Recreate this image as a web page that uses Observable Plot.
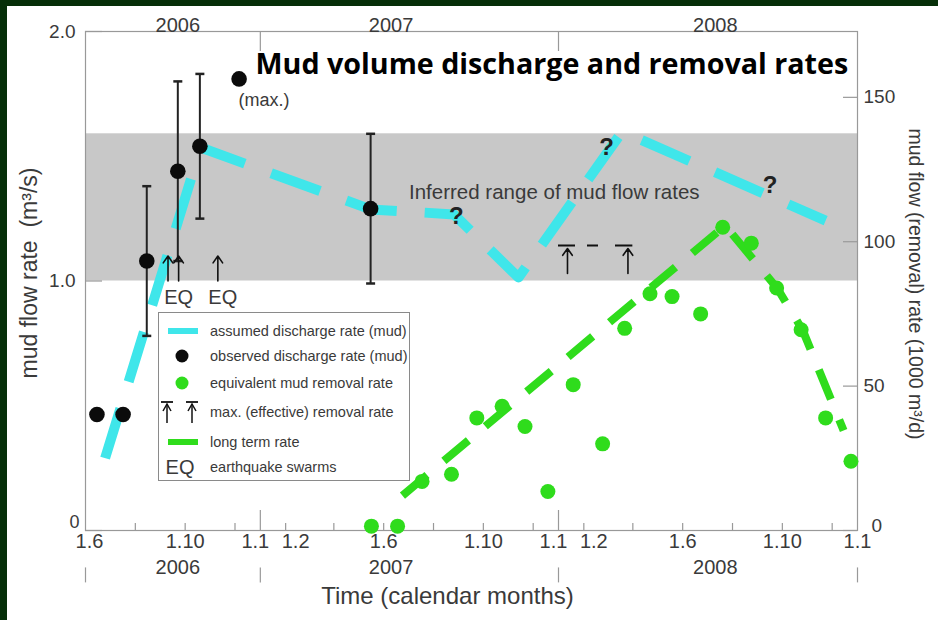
<!DOCTYPE html>
<html>
<head>
<meta charset="utf-8">
<script src="https://cdn.jsdelivr.net/npm/d3@7"></script>
<script src="https://cdn.jsdelivr.net/npm/@observablehq/plot@0.6"></script>
<style>
html, body { margin: 0; padding: 0; background: #062f08; width: 938px; height: 620px; overflow: hidden; }
#wrap { position: absolute; left: 7px; top: 6px; width: 931px; height: 614px; background: #fff; }
#legend { position: absolute; left: 151px; top: 306px; }
svg { display: block; }
</style>
</head>
<body>
<div id="wrap"><div id="chart"></div></div>
<script>
const parse = d3.utcParse("%Y-%m-%d");
const K = 86.4; // 1 m3/s = 86.4 thousand m3/d

// ---------- data ----------
const timeDomain = ["2006-06-01", "2009-01-01"];
const rateDomain = [0, 2];

// assumed discharge rate (mud), m3/s
const assumedDates = ["2006-06-25", "2006-10-20", "2007-05-16", "2007-08-26", "2007-11-13", "2008-03-19", "2008-11-23"];
const assumedRate  = [0.29, 1.535, 1.287, 1.267, 1.014, 1.599, 1.242];

// observed discharge rate (mud), m3/s, with error half-width
const observedDates = ["2006-06-15", "2006-07-17", "2006-08-15", "2006-09-22", "2006-10-19", "2006-12-06", "2007-05-16"];
const observedRate  = [0.465, 0.465, 1.08, 1.44, 1.54, 1.81, 1.29];
const observedErr   = [0, 0, 0.30, 0.36, 0.29, 0, 0.30];
const maxLabel = "(max.)";

// equivalent mud removal rate, 1000 m3/d
const removalDates = ["2007-05-17", "2007-06-18", "2007-07-18", "2007-08-23", "2007-09-23", "2007-10-24", "2007-11-21", "2007-12-19",
  "2008-01-19", "2008-02-24", "2008-03-22", "2008-04-22", "2008-05-19", "2008-06-23", "2008-07-20", "2008-08-24",
  "2008-09-24", "2008-10-24", "2008-11-23", "2008-12-24"];
const removalRate = [1.5, 1.5, 17, 19.5, 39, 43, 36, 13.5, 50.5, 30, 70, 82, 81, 75, 105, 99.5, 84, 69.5, 39, 24];

// long term rate, 1000 m3/d
const longTermDates = ["2007-06-24", "2008-07-23", "2008-09-25", "2008-10-26", "2008-12-15"];
const longTermRate  = [12.1, 105.6, 83.8, 69.3, 34.6];

// inferred range of mud flow rates, m3/s
const inferredRange = [1.0, 1.59];
const inferredLabel = { date: "2007-07-02", v: 1.355, text: "Inferred range of mud flow rates" };

// max. (effective) removal rate, 1000 m3/d
const maxRemovalRate = 98.7;
const maxRemovalSpan = ["2008-01-01", "2008-04-01"];
const maxRemovalArrows = ["2008-01-12", "2008-03-26"];
const arrowBase = 1.03;

// earthquake swarms
const eqArrowDates = ["2006-09-10", "2006-09-23", "2006-11-10"];
const eqArrowRange = [1.0, 1.1];
const eqLabelDates = ["2006-09-23", "2006-11-16"];
const eqLabelRate = 0.935;

// question marks
const questionDates = ["2007-08-29", "2008-02-29", "2008-09-16"];
const questionRate  = [1.259, 1.535, 1.383];

// axes
const leftTicks = [0, 1, 2];
const rightTicks = [0, 50, 100, 150];
const minorTickDates = ["2006-08-01", "2006-10-01", "2006-12-01", "2007-02-01", "2007-04-01", "2007-06-01", "2007-08-01",
  "2007-10-01", "2007-12-01", "2008-02-01", "2008-04-01", "2008-06-01", "2008-08-01", "2008-10-01", "2008-12-01"];
const yearStartDates = ["2007-01-01", "2008-01-01"];
const yearMarkDates = ["2006-06-01", "2007-01-01", "2008-01-01", "2009-01-01"];
const monthLabelDates = ["2006-06-01", "2006-10-01", "2007-01-01", "2007-02-01", "2007-06-01", "2007-10-01",
  "2008-01-01", "2008-02-01", "2008-06-01", "2008-10-01", "2009-01-01"];
const monthLabels = ["1.6", "1.10", "1.1", "1.2", "1.6", "1.10", "1.1", "1.2", "1.6", "1.10", "1.1"];
const yearLabelDates = ["2006-09-22", "2007-06-10", "2008-07-11"];
const yearLabels = ["2006", "2007", "2008"];

const titleText = "Mud volume discharge and removal rates";
const xTitle = "Time (calendar months)";
const yTitleLeft = "mud flow rate  (m³/s)";
const yTitleRight = "mud flow (removal) rate (1000 m³/d)";

const legendItems = ["assumed discharge rate (mud)", "observed discharge rate (mud)", "equivalent mud removal rate",
  "max. (effective) removal rate", "long term rate", "earthquake swarms"];

// ---------- tables ----------
const X0 = parse(timeDomain[0]), X1 = parse(timeDomain[1]);
const assumed = assumedDates.map((d, i) => ({ date: parse(d), v: assumedRate[i] }));
const observed = observedDates.map((d, i) => ({ date: parse(d), v: observedRate[i], err: observedErr[i] }));
const bars = observed.filter(d => d.err > 0);
const caps = bars.flatMap(d => [{ date: d.date, v: d.v - d.err }, { date: d.date, v: d.v + d.err }]);
const maxObs = observed.reduce((a, b) => (b.v > a.v ? b : a));
const removal = removalDates.map((d, i) => ({ date: parse(d), v: removalRate[i] }));
const longTerm = longTermDates.map((d, i) => ({ date: parse(d), v: longTermRate[i] }));
const questions = questionDates.map((d, i) => ({ date: parse(d), v: questionRate[i] }));
const monthLab = monthLabelDates.map((d, i) => ({ date: parse(d), text: monthLabels[i] }));
const yearLab = yearLabelDates.map((d, i) => ({ date: parse(d), text: yearLabels[i] }));

// ---------- style ----------
const CYAN = "#3fe6ea", GREEN = "#2fdc1c", INK = "#3a3a3a", AXIS = "#999";
const W = 931, H = 614, ML = 78, MR = 81, MT = 25, MB = 90;
const FW = W - ML - MR, FH = H - MT - MB;

const ctx = document.createElement("canvas").getContext("2d");
ctx.font = "bold 26px 'Open Sans'";
const titleSize = 26 * 593 / ctx.measureText(titleText).width;

const hbar = { draw(context, size) { const r = Math.sqrt(size / Math.PI); context.moveTo(-r, 0); context.lineTo(r, 0); } };
const isMidJan = d => d.date.getUTCMonth() === 0 && d.date > X0 && d.date < X1;
const isFeb = d => d.date.getUTCMonth() === 1;
const isFirst = d => +d.date === +X0;

const chart = Plot.plot({
  width: W, height: H,
  marginLeft: ML, marginRight: MR, marginTop: MT, marginBottom: MB,
  style: { fontFamily: '"Liberation Sans", Arial, sans-serif', background: "transparent", color: INK, overflow: "visible" },
  x: { type: "utc", domain: [X0, X1], axis: null },
  y: { domain: rateDomain },
  marks: [
    Plot.rect([inferredRange], { x1: () => X0, x2: () => X1, y1: d => d[0], y2: d => d[1], fill: "#c8c8c8" }),
    Plot.frame({ stroke: AXIS, strokeWidth: 1.2 }),
    // ticks
    Plot.tickY(leftTicks, { y: d => d, insetRight: FW - 17, stroke: AXIS, strokeWidth: 1.2 }),
    Plot.tickY(rightTicks, { y: d => d / K, insetLeft: FW - 14, stroke: AXIS, strokeWidth: 1.2 }),
    Plot.tickX(minorTickDates, { x: d => parse(d), insetTop: FH - 7, stroke: AXIS, strokeWidth: 1.2 }),
    Plot.tickX(yearStartDates, { x: d => parse(d), insetTop: FH - 20, stroke: AXIS, strokeWidth: 1.2 }),
    Plot.tickX(yearStartDates, { x: d => parse(d), insetBottom: FH - 20, stroke: AXIS, strokeWidth: 1.2 }),
    Plot.ruleX(yearMarkDates, { x: d => parse(d), y1: () => -0.15, y2: () => -0.21, stroke: AXIS, strokeWidth: 1.2 }),
    // axes
    Plot.axisY({ anchor: "left", ticks: leftTicks.filter(t => t > 0), tickFormat: d => d.toFixed(1), tickSize: 0, tickPadding: 10, fontSize: 19, label: null }),
    Plot.text(leftTicks.filter(t => t === 0), { y: d => d, text: d => String(d), frameAnchor: "left", textAnchor: "end", dx: -6, dy: -8, fontSize: 18 }),
    Plot.axisY({ anchor: "right", ticks: rightTicks.filter(t => t > 0).map(v => v / K), tickFormat: d => String(Math.round(d * K)), tickSize: 0, tickPadding: 6, fontSize: 19, label: null }),
    Plot.text(rightTicks.filter(t => t === 0), { y: d => d / K, text: d => String(d), frameAnchor: "right", textAnchor: "start", dx: 14, dy: -5, fontSize: 19 }),
    Plot.text(monthLab.filter(d => !isMidJan(d) && !isFeb(d) && !isFirst(d)),
      { x: "date", text: "text", frameAnchor: "bottom", dy: 17, fontSize: 20 }),
    Plot.text(monthLab.filter(isFirst),
      { x: "date", text: "text", frameAnchor: "bottom", dy: 17, dx: 4, fontSize: 20 }),
    Plot.text(monthLab.filter(isMidJan),
      { x: "date", text: "text", frameAnchor: "bottom", dy: 17, dx: -5, fontSize: 20 }),
    Plot.text(monthLab.filter(isFeb),
      { x: "date", text: "text", frameAnchor: "bottom", dy: 17, dx: 10, fontSize: 20 }),
    Plot.text(yearLab, { x: "date", text: "text", frameAnchor: "bottom", dy: 43, fontSize: 20 }),
    Plot.text(yearLab, { x: "date", text: "text", frameAnchor: "top", dy: -14, fontSize: 20 }),
    Plot.text([xTitle], { text: d => d, frameAnchor: "bottom", textAnchor: "middle", dx: -24, dy: 73, fontSize: 24 }),
    Plot.text([yTitleLeft], { text: d => d, frameAnchor: "left", textAnchor: "middle", dx: -56, dy: -8, rotate: -90, fontSize: 23 }),
    Plot.text([yTitleRight], { text: d => d, frameAnchor: "right", textAnchor: "middle", dx: 58, dy: 3, rotate: 90, fontSize: 19.5 }),
    // series
    Plot.line(assumed, { x: "date", y: "v", stroke: CYAN, strokeWidth: 10, strokeDasharray: "52,28", strokeLinecap: "butt" }),
    Plot.line(longTerm, { x: "date", y: d => d.v / K, stroke: GREEN, strokeWidth: 8, strokeDasharray: "32,22", strokeLinecap: "butt" }),
    Plot.ruleX(bars, { x: "date", y1: d => d.v - d.err, y2: d => d.v + d.err, stroke: "#222", strokeWidth: 2 }),
    Plot.dot(caps, { x: "date", y: "v", symbol: hbar, r: 4.5, stroke: "#222", strokeWidth: 2.5, fill: "none" }),
    Plot.dot(observed, { x: "date", y: "v", r: 7.8, fill: "#0b0b0b" }),
    Plot.dot(removal, { x: "date", y: d => d.v / K, r: 7.5, fill: GREEN }),
    // annotations
    Plot.arrow(eqArrowDates, { x: d => parse(d), y1: () => eqArrowRange[0], y2: () => eqArrowRange[1], stroke: "#111", strokeWidth: 1.6, headLength: 9, headAngle: 70 }),
    Plot.text(eqLabelDates, { x: d => parse(d), y: () => eqLabelRate, text: () => "EQ", fontSize: 20, fill: INK }),
    Plot.arrow(maxRemovalArrows, { x: d => parse(d), y1: () => arrowBase, y2: () => maxRemovalRate / K - 0.012, stroke: "#111", strokeWidth: 1.6, headLength: 9, headAngle: 70 }),
    Plot.ruleY([maxRemovalRate], { y: d => d / K, x1: () => parse(maxRemovalSpan[0]), x2: () => parse(maxRemovalSpan[1]), stroke: "#111", strokeWidth: 2.2, strokeDasharray: "17,12,11,17,18" }),
    Plot.text([inferredLabel], { x: d => parse(d.date), y: "v", text: "text", textAnchor: "start", fontSize: 20.5, fill: INK }),
    Plot.text(questions, { x: "date", y: "v", text: () => "?", fontSize: 24, fontWeight: "bold", fill: "#222" }),
    Plot.text([maxObs], { x: "date", y: "v", text: () => maxLabel, dx: 25, dy: 21, fontSize: 18, fill: INK }),
    Plot.text([titleText], { text: d => d, frameAnchor: "top-left", dx: 170, dy: 42, lineAnchor: "bottom", textAnchor: "start",
      fontFamily: "'Open Sans'", fontWeight: "bold", fontSize: titleSize, fill: "#000" })
  ]
});
document.getElementById("chart").appendChild(chart);

// ---------- legend ----------
const lg = d3.select("#wrap").append("svg").attr("id", "legend").attr("width", 252).attr("height", 169)
  .style("font-family", '"Liberation Sans", Arial, sans-serif');
lg.append("rect").attr("x", 0.5).attr("y", 0.5).attr("width", 251).attr("height", 168).attr("fill", "#fff").attr("stroke", "#8a8a8a");
const rowY = [19, 44, 71, 100, 130, 155];
lg.append("line").attr("x1", 10).attr("x2", 40).attr("y1", rowY[0]).attr("y2", rowY[0]).attr("stroke", CYAN).attr("stroke-width", 6);
lg.append("circle").attr("cx", 24).attr("cy", rowY[1]).attr("r", 6.5).attr("fill", "#0b0b0b");
lg.append("circle").attr("cx", 24).attr("cy", rowY[2]).attr("r", 6.5).attr("fill", GREEN);
for (const ax of [9, 34]) {
  lg.append("line").attr("x1", ax - 6).attr("x2", ax + 6).attr("y1", 90).attr("y2", 90).attr("stroke", "#111").attr("stroke-width", 1.8);
  lg.append("line").attr("x1", ax).attr("x2", ax).attr("y1", 92).attr("y2", 111).attr("stroke", "#111").attr("stroke-width", 1.5);
  lg.append("path").attr("d", `M${ax - 4},${99} L${ax},${92} L${ax + 4},${99}`).attr("fill", "none").attr("stroke", "#111").attr("stroke-width", 1.5);
}
lg.append("line").attr("x1", 10).attr("x2", 40).attr("y1", rowY[4]).attr("y2", rowY[4]).attr("stroke", GREEN).attr("stroke-width", 6);
lg.append("text").attr("x", 22).attr("y", rowY[5]).attr("dy", "0.35em").attr("text-anchor", "middle").attr("font-size", 20).attr("fill", INK).text("EQ");
lg.selectAll("text.item").data(legendItems).join("text").attr("class", "item")
  .attr("x", 52).attr("y", (d, i) => rowY[i]).attr("dy", "0.35em").attr("font-size", 14.5).attr("fill", INK).text(d => d);
</script>
</body>
</html>
